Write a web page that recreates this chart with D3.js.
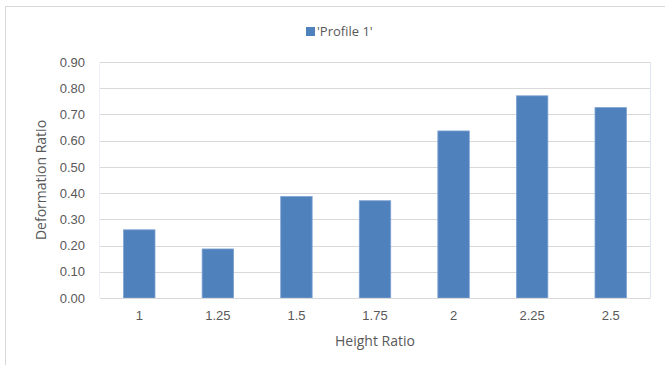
<!DOCTYPE html>
<html>
<head>
<meta charset="utf-8">
<script src="https://cdn.jsdelivr.net/npm/d3@7"></script>
<style>
  html, body { margin: 0; padding: 0; background: #fff; }
  svg { display: block; font-family: "Open Sans", "Noto Sans", sans-serif; }
</style>
</head>
<body>
<svg id="chart" width="665" height="365"></svg>
<script>
// Height ratio categories and the measured deformation ratio for each
const categories = ["1", "1.25", "1.5", "1.75", "2", "2.25", "2.5"];
const deformation = [0.26, 0.187, 0.387, 0.371, 0.637, 0.771, 0.726];
const yTicks = [0, 0.1, 0.2, 0.3, 0.4, 0.5, 0.6, 0.7, 0.8, 0.9];
const seriesName = "'Profile 1'";

const svg = d3.select("#chart");
const W = 665, H = 365;
const plot = { left: 100, right: 650, top: 62, bottom: 298 };

// outer chart frame
svg.append("rect")
  .attr("x", 5.5).attr("y", 6.5)
  .attr("width", W + 10).attr("height", H + 10)
  .attr("fill", "#fff").attr("stroke", "#d9d9d9").attr("stroke-width", 1);

const x = d3.scaleBand()
  .domain(categories)
  .range([plot.left, plot.right])
  .paddingInner(0.6).paddingOuter(0.3);

const y = d3.scaleLinear()
  .domain([0, 0.9])
  .range([plot.bottom, plot.top]);

// horizontal gridlines
svg.append("g")
  .selectAll("line")
  .data(yTicks)
  .join("line")
  .attr("x1", plot.left).attr("x2", plot.right)
  .attr("y1", d => Math.round(y(d)) + 0.5).attr("y2", d => Math.round(y(d)) + 0.5)
  .attr("stroke", "#d9d9d9").attr("stroke-width", 1);

// plot area edges
svg.append("line")
  .attr("x1", plot.right + 0.5).attr("x2", plot.right + 0.5)
  .attr("y1", plot.top).attr("y2", plot.bottom)
  .attr("stroke", "#dce6f2").attr("stroke-width", 1);
svg.append("line")
  .attr("x1", plot.left - 0.5).attr("x2", plot.left - 0.5)
  .attr("y1", plot.top).attr("y2", plot.bottom)
  .attr("stroke", "#eef2f8").attr("stroke-width", 1);

// bars
svg.append("g")
  .selectAll("rect")
  .data(categories.map((c, i) => ({ c, v: deformation[i] })))
  .join("rect")
  .attr("x", d => x(d.c))
  .attr("width", x.bandwidth())
  .attr("y", d => y(d.v))
  .attr("height", d => y(0) - y(d.v))
  .attr("fill", "#4f81bd")
  .attr("stroke", "#7ea2d2").attr("stroke-width", 0.8);

// y axis
const yAxis = svg.append("g")
  .attr("transform", `translate(${plot.left - 15},0)`)
  .call(d3.axisLeft(y).tickValues(yTicks).tickFormat(d3.format(".2f")).tickSize(0).tickPadding(0));
yAxis.select(".domain").remove();
yAxis.selectAll("text")
  .attr("fill", "#595959").attr("font-size", 13);

// x axis
const xAxis = svg.append("g")
  .attr("transform", `translate(0,${plot.bottom})`)
  .call(d3.axisBottom(x).tickSize(0).tickPadding(13));
xAxis.select(".domain").attr("stroke", "#d9d9d9");
xAxis.selectAll("text")
  .attr("fill", "#595959").attr("font-size", 13);

// axis titles
svg.append("text")
  .attr("x", (plot.left + plot.right) / 2).attr("y", 346)
  .attr("text-anchor", "middle")
  .attr("fill", "#595959").attr("font-size", 14)
  .text("Height Ratio");

svg.append("text")
  .attr("transform", `translate(46,${(plot.top + plot.bottom) / 2}) rotate(-90)`)
  .attr("text-anchor", "middle")
  .attr("fill", "#595959").attr("font-size", 14)
  .text("Deformation Ratio");

// legend
const legend = svg.append("g").attr("transform", "translate(306,26)");
legend.append("rect")
  .attr("width", 9).attr("height", 9).attr("y", 1)
  .attr("fill", "#4f81bd");
legend.append("text")
  .attr("x", 11).attr("y", 10)
  .attr("fill", "#595959").attr("font-size", 13)
  .text(seriesName);
</script>
</body>
</html>
